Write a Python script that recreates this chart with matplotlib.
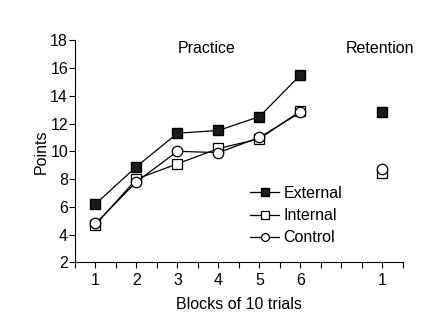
import numpy as np
import matplotlib
matplotlib.use('Agg')
import matplotlib.pyplot as plt

plt.rcParams['font.family'] = ['Liberation Sans', 'DejaVu Sans']

# Mean points per block of 10 trials; retention block plotted separately
blocks = [1, 2, 3, 4, 5, 6]
retention_pos = 8
external = [6.2, 8.9, 11.3, 11.5, 12.5, 15.5]
internal = [4.7, 8.0, 9.1, 10.2, 10.9, 12.9]
control = [4.8, 7.8, 10.0, 9.9, 11.0, 12.8]
external_ret = 12.8
internal_ret = 8.4
control_ret = 8.7
xtick_labels = ['1', '2', '3', '4', '5', '6', '1']

fs = 11.5
fig = plt.figure(figsize=(4.30, 3.29), dpi=100)
ax = fig.add_axes([0.1744, 0.2027, 0.7628, 0.675])

ms = 7.5
ax.plot(blocks, external, '-s', color='black', mfc='#1a1a1a', mec='black',
        ms=ms, lw=0.9, label='External', zorder=3)
ax.plot(blocks, internal, '-s', color='black', mfc='white', mec='black',
        ms=ms, lw=0.9, mew=0.9, label='Internal', zorder=3)
ax.plot(blocks, control, '-o', color='black', mfc='white', mec='black',
        ms=ms, lw=0.9, mew=0.9, label='Control', zorder=4)

ax.plot([retention_pos], [external_ret], 's', color='#1a1a1a', mec='black', ms=ms)
ax.plot([retention_pos], [internal_ret], 's', mfc='white', mec='black', ms=ms, mew=0.9)
ax.plot([retention_pos], [control_ret], 'o', mfc='white', mec='black', ms=ms, mew=0.9)

ax.set_xlim(0.5, 8.5)
ax.set_ylim(2, 18)
ax.set_xticks(blocks + [retention_pos])
ax.set_xticklabels(xtick_labels)
ax.set_xticks(np.arange(0.5, 8.51, 0.5), minor=True)
ax.set_yticks(np.arange(2, 19, 2))
ax.tick_params(axis='both', which='both', direction='out', length=4,
               width=0.8, labelsize=fs, colors='black')
ax.tick_params(axis='x', which='major', pad=4)
ax.tick_params(axis='y', pad=1)

for side in ['top', 'right']:
    ax.spines[side].set_visible(False)
for side in ['left', 'bottom']:
    ax.spines[side].set_linewidth(0.8)

ax.set_xlabel('Blocks of 10 trials', fontsize=fs, labelpad=6)
ax.set_ylabel('Points', fontsize=fs, labelpad=1)

ax.text(3.7, 17.4, 'Practice', ha='center', va='center', fontsize=fs)
ax.text(7.95, 17.4, 'Retention', ha='center', va='center', fontsize=fs)

ax.legend(loc='upper left', bbox_to_anchor=(0.534, 0.344), frameon=False,
          fontsize=fs, handlelength=1.8, handletextpad=0.3, markerscale=0.75,
          labelspacing=0.45, borderaxespad=0, borderpad=0)

fig.savefig('out.png', dpi=100)
